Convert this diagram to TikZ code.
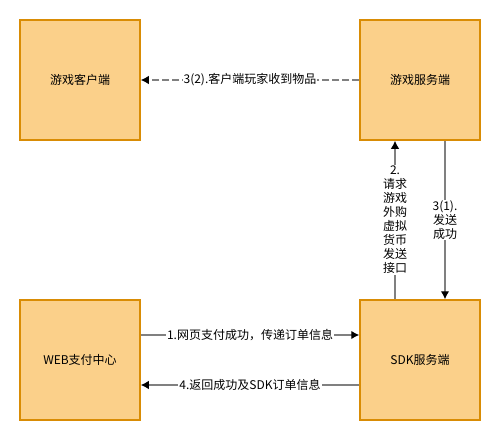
\documentclass[tikz,border=0pt]{standalone}
\usepackage{fontspec}
\setmainfont{Noto Sans CJK SC}
\usepackage{tikz}
\usetikzlibrary{arrows.meta}
\usetikzlibrary{positioning}
\definecolor{boxfill}{HTML}{FBD08A}
\definecolor{boxline}{HTML}{D98C04}
\definecolor{wire}{HTML}{808080}

\begin{document}
\begin{tikzpicture}[x=1pt, y=-1pt]
      \tikzset{
        party/.style={draw=boxline, fill=boxfill, line width=1.5pt,
            minimum width=120pt, minimum height=120pt, inner sep=0pt,
            font=\fontsize{12}{14}\selectfont},
        msg/.style={draw=wire, line width=1.3pt,
            -{Latex[length=8pt, width=8.5pt, color=black]}},
        msglabel/.style={fill=white, inner sep=1pt, align=center,
            font=\fontsize{12}{14}\selectfont}
      }

      \def\off{25} % offset of paired wires
      \useasboundingbox (0,0) rectangle (500,440);

      % Boxes
      \node[party] (client) at (80,80) {游戏客户端};
      \node[party] (server) at (420,80) {游戏服务端};
      \node[party] (web) at (80,360) {WEB支付中心};
      \node[party] (sdk) at (420,360) {SDK服务端};

      % Wires
      \draw[msg, dash pattern=on 7pt off 3pt] (server.west) -- (client.east)
        node[midway, msglabel] {3(2).客户端玩家收到物品}; % to client
      \draw[msg] ([xshift=-\off pt]sdk.north) -- ([xshift=-\off pt]server.south)
        node[midway, msglabel] {2.\\请求\\游戏\\外购\\虚拟\\货币\\发送\\接口}; % request
      \draw[msg] ([xshift=\off pt]server.south) -- ([xshift=\off pt]sdk.north)
        node[midway, msglabel] {3(1).\\发送\\成功}; % reply
      \draw[msg] ([yshift=\off pt]web.east) -- ([yshift=\off pt]sdk.west)
        node[midway, msglabel] {1.网页支付成功，传递订单信息}; % order
      \draw[msg] ([yshift=-\off pt]sdk.west) -- ([yshift=-\off pt]web.east)
        node[midway, msglabel] {4.返回成功及SDK订单信息}; % result
    \end{tikzpicture}
\end{document}
